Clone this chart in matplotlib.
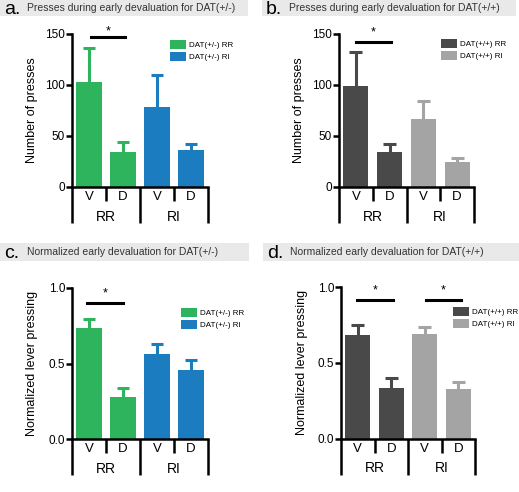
import matplotlib
matplotlib.use("Agg")
import matplotlib.pyplot as plt
from matplotlib.patches import Rectangle, Patch
from matplotlib.transforms import blended_transform_factory

plt.rcParams['font.family'] = ['Liberation Sans', 'DejaVu Sans']

W, H = 519, 492
fig = plt.figure(figsize=(W / 100, H / 100), dpi=100)

# ---- data ----
conditions = ["V", "D", "V", "D"]
groups = ["RR", "RI"]

a_means = [103, 34, 78, 35.5]
a_sem = [33, 10, 32, 6]
b_means = [99, 34, 66.5, 24]
b_sem = [33, 7.5, 18, 4.5]
c_means = [0.735, 0.28, 0.56, 0.46]
c_sem = [0.06, 0.06, 0.067, 0.065]
d_means = [0.686, 0.335, 0.69, 0.33]
d_sem = [0.066, 0.065, 0.047, 0.045]

green, blue = "#2db45c", "#1b7cc0"
dark, light = "#494949", "#a4a4a4"


def px_box(left, right, top, bottom):
    return [left / W, 1 - bottom / H, (right - left) / W, (bottom - top) / H]


def banner(x0, x1, y0, y1, letter, text):
    fig.patches.append(Rectangle((x0 / W, 1 - y1 / H), (x1 - x0) / W, (y1 - y0) / H,
                                 transform=fig.transFigure, facecolor="#e9e9e9",
                                 edgecolor="none", zorder=0))
    yc = 1 - (y0 + y1) / 2 / H
    fig.text((x0 + 4) / W, yc - 0.003, letter, fontsize=14, va="center", ha="left")
    fig.text((x0 + 27) / W, yc, text, fontsize=7.5, va="center", ha="left", color="#333333")


def panel(box, means, sem, colors, ymax, yticks, ylabels, ylabel, leg_xy, leg_labels, sig):
    ax = fig.add_axes(box)
    x = list(range(len(means)))
    ax.bar(x, means, width=0.74, color=colors, zorder=2)
    tops = [m + e for m, e in zip(means, sem)]
    ax.vlines(x, means, tops, colors=colors, lw=2.2, zorder=1)
    ax.hlines(tops, [xi - 0.19 for xi in x], [xi + 0.19 for xi in x],
              colors=colors, lw=2.2, zorder=1)
    ax.set_xlim(-0.5, 3.5)
    ax.set_ylim(0, ymax)
    ax.set_yticks(yticks)
    ax.set_yticklabels(ylabels, fontsize=8.5)
    ax.set_xticks([])
    for s in ["top", "right"]:
        ax.spines[s].set_visible(False)
    for s in ["left", "bottom"]:
        ax.spines[s].set_linewidth(1.8)
    ax.tick_params(axis="y", width=1.8, length=4, pad=1)
    ax.set_ylabel(ylabel, fontsize=9)
    ax.yaxis.set_label_coords(-0.25, 0.5)
    ax.patch.set_alpha(0)

    tr = blended_transform_factory(ax.transData, ax.transAxes)
    hpx = box[3] * H
    for xs in [0.5, 2.5]:
        ax.plot([xs, xs], [0, -14 / hpx], transform=tr, color="black", lw=1.8,
                clip_on=False, solid_capstyle="butt")
    for xs in [-0.5, 1.5, 3.5]:
        ax.plot([xs, xs], [0, -36 / hpx], transform=tr, color="black", lw=1.8,
                clip_on=False, solid_capstyle="butt")
    for xi, lab in zip(x, conditions):
        ax.text(xi, -10 / hpx, lab, transform=tr, ha="center", va="center", fontsize=9.5)
    for gi, g in enumerate(groups):
        ax.text(0.5 + 2 * gi, -30 / hpx, g, transform=tr, ha="center", va="center", fontsize=10)

    for (x0, x1, yl, ys) in sig:
        ax.plot([x0, x1], [yl, yl], color="black", lw=2.2, clip_on=False)
        ax.text((x0 + x1) / 2, ys, "*", ha="center", va="center", fontsize=9, clip_on=False)

    handles = [Patch(facecolor=colors[0], edgecolor="none"),
               Patch(facecolor=colors[2], edgecolor="none")]
    ax.legend(handles, leg_labels, loc="upper left",
              bbox_to_anchor=(leg_xy[0] / W, 1 - leg_xy[1] / H),
              bbox_transform=fig.transFigure, frameon=False, fontsize=5.8,
              handlelength=2.0, handleheight=1.35, labelspacing=0.3,
              handletextpad=0.35, borderpad=0, borderaxespad=0)
    return ax


banner(0, 248, 0, 16, "a.", "Presses during early devaluation for DAT(+/-)")
banner(262, 516, 0, 16, "b.", "Presses during early devaluation for DAT(+/+)")
banner(0, 249, 243, 261, "c.", "Normalized early devaluation for DAT(+/-)")
banner(263, 519, 243, 261, "d.", "Normalized early devaluation for DAT(+/+)")

t150 = [0, 50, 100, 150]
t150l = ["0", "50", "100", "150"]
t1 = [0.0, 0.5, 1.0]
t1l = ["0.0", "0.5", "1.0"]

panel(px_box(72, 208, 34, 186.5), a_means, a_sem, [green, green, blue, blue],
      150, t150, t150l, "Number of presses", (170, 40),
      ["DAT(+/-) RR", "DAT(+/-) RI"], [(0.05, 1.05, 147, 153)])
panel(px_box(339, 474, 34, 186.5), b_means, b_sem, [dark, dark, light, light],
      150, t150, t150l, "Number of presses", (441, 39),
      ["DAT(+/+) RR", "DAT(+/+) RI"], [(0.0, 1.03, 142, 152)])
panel(px_box(72, 208, 288, 439), c_means, c_sem, [green, green, blue, blue],
      1.0, t1, t1l, "Normalized lever pressing", (181, 308),
      ["DAT(+/-) RR", "DAT(+/-) RI"], [(-0.06, 1.0, 0.90, 0.965)])
panel(px_box(341, 475, 287, 438.5), d_means, d_sem, [dark, dark, light, light],
      1.0, t1, t1l, "Normalized lever pressing", (453, 307),
      ["DAT(+/+) RR", "DAT(+/+) RI"], [(-0.02, 1.05, 0.915, 0.98), (2.04, 3.08, 0.915, 0.98)])

fig.savefig("out.png", dpi=100)
